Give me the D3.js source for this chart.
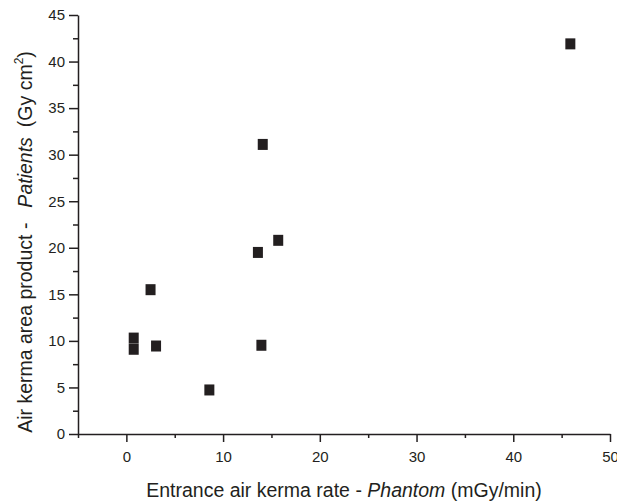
<!DOCTYPE html>
<html>
<head>
<meta charset="utf-8">
<script src="https://cdn.jsdelivr.net/npm/d3@7"></script>
<style>
  body { margin: 0; background: #fff; }
  svg { display: block; font-family: "Liberation Sans", Arial, sans-serif; }
  .axis path, .axis line { stroke: #231f20; }
  .axis text { fill: #231f20; font-size: 15px; font-family: "Liberation Sans", Arial, sans-serif; }
  .title { fill: #231f20; font-size: 19.5px; }
</style>
</head>
<body>
<div id="chart"></div>
<script>
// --------- DATA ---------
const phantomRate = [0.76, 0.76, 2.5, 3.07, 8.58, 13.6, 13.96, 14.1, 15.7, 45.9];
const patientDap  = [10.3, 9.1, 15.5, 9.45, 4.73, 19.5, 9.53, 31.1, 20.8, 41.9];
const xTicks = [0, 10, 20, 30, 40, 50];
const xMinorTicks = [-5, 5, 15, 25, 35, 45];
const yTicks = [0, 5, 10, 15, 20, 25, 30, 35, 40, 45];
const yMinorTicks = [2.5, 7.5, 12.5, 17.5, 22.5, 27.5, 32.5, 37.5, 42.5];

const data = phantomRate.map((d, i) => ({x: d, y: patientDap[i]}));

let width = 617, height = 503;
let svg = d3.select("#chart").append("svg")
    .attr("width", width)
    .attr("height", height);

// Scales
let xScale = d3.scaleLinear().domain([-5, 50]).range([78, 610]);
let yScale = d3.scaleLinear().domain([0, 45]).range([434, 15]);

// Axes: minor first, then major on top
svg.append("g").attr("class", "axis")
    .attr("transform", "translate(0,434)")
    .call(d3.axisBottom(xScale).tickValues(xMinorTicks).tickSize(4).tickFormat(""))
    .call(g => g.select(".domain").remove())
    .selectAll("line").attr("stroke-width", 1.5);

svg.append("g").attr("class", "axis")
    .attr("transform", "translate(0,434)")
    .call(d3.axisBottom(xScale).tickValues(xTicks).tickSizeInner(8).tickSizeOuter(0).tickPadding(9))
    .call(g => g.selectAll("line, path").attr("stroke-width", 1.5));

svg.append("g").attr("class", "axis")
    .attr("transform", "translate(78,0)")
    .call(d3.axisLeft(yScale).tickValues(yMinorTicks).tickSize(5).tickFormat(""))
    .call(g => g.select(".domain").remove())
    .selectAll("line").attr("stroke-width", 1.5);

svg.append("g").attr("class", "axis")
    .attr("transform", "translate(78,0)")
    .call(d3.axisLeft(yScale).tickValues(yTicks).tickSizeInner(9).tickSizeOuter(0).tickPadding(4))
    .call(g => g.selectAll("line, path").attr("stroke-width", 1.5));

// Points
svg.append("g").selectAll("rect")
    .data(data)
    .join("rect")
    .attr("x", d => xScale(d.x) - 5)
    .attr("y", d => yScale(d.y) - 5.5)
    .attr("width", 10)
    .attr("height", 11)
    .attr("fill", "#231f20");

// X title
let xt = svg.append("text")
    .attr("class", "title")
    .attr("x", 344)
    .attr("y", 497)
    .attr("text-anchor", "middle");
xt.append("tspan").text("Entrance air kerma rate - ");
xt.append("tspan").attr("font-style", "italic").text("Phantom");
xt.append("tspan").text(" (mGy/min)");

// Y title
let yt = svg.append("text")
    .attr("class", "title")
    .attr("transform", "translate(32,242) rotate(-90)")
    .attr("text-anchor", "middle");
yt.append("tspan").text("Air kerma area product -");
yt.append("tspan").attr("dx", 15).attr("font-style", "italic").text("Patients");
yt.append("tspan").attr("dx", 10).text("(Gy cm");
yt.append("tspan").attr("font-size", "12px").attr("dy", -9).text("2");
yt.append("tspan").attr("dy", 9).text(")");
</script>
</body>
</html>
